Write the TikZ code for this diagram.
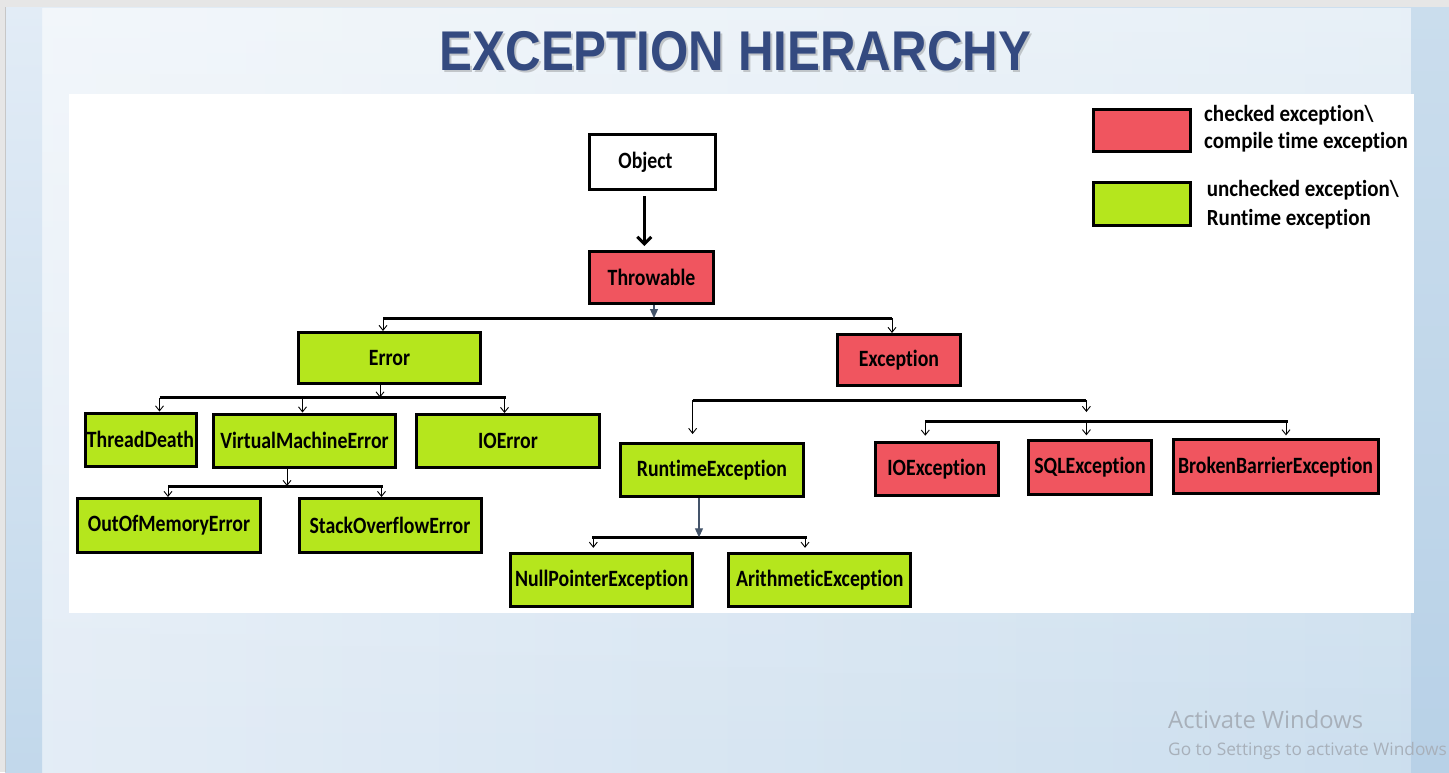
\documentclass[tikz,border=0pt]{standalone}
\usepackage{fontspec}
\setmainfont{Carlito}[Ligatures={NoCommon}]
\newfontfamily\titlefont{Liberation Sans}
\newfontfamily\winfont{Open Sans}
\usetikzlibrary{arrows.meta,fadings,calc}

\definecolor{chk}{RGB}{240,85,95}
\definecolor{unchk}{RGB}{181,230,29}
\definecolor{ttl}{RGB}{52,74,128}
\definecolor{linkblue}{RGB}{68,84,106}
\definecolor{frame}{RGB}{230,230,230}
\definecolor{bgleft}{RGB}{228,237,246}
\definecolor{bgmid}{RGB}{222,233,243}
\definecolor{bgright}{RGB}{203,222,238}
\definecolor{stripTop}{RGB}{226,236,246}
\definecolor{stripBot}{RGB}{194,216,235}
\definecolor{rstripTop}{RGB}{202,221,237}
\definecolor{rstripBot}{RGB}{184,209,231}
\definecolor{wingray}{RGB}{168,176,186}

% labels are set slightly taller than the font's natural shape
\newcommand\lbl[1]{\scalebox{1}[1.18]{#1}}
\newcommand\titletext{\scalebox{0.88}[1]{\titlefont\fontsize{56}{56}\selectfont\bfseries EXCEPTION HIERARCHY}}

\tikzset{
  box/.style={draw=black, line width=3pt, inner sep=0pt, text=black,
    font=\fontsize{19.8}{24}\selectfont\bfseries},
  legtext/.style={anchor=base west, inner sep=0pt, text=black,
    font=\fontsize{21}{21}\selectfont\bfseries},
  bar/.style={line width=3pt},
  drop/.style={line width=0.9pt, -{Straight Barb[length=5pt,width=8pt,line width=0.9pt]}},
  feed/.style={draw=linkblue, line width=1.1pt, -{Triangle[length=9pt,width=8pt]}},
  objarrow/.style={line width=3pt, -{Straight Barb[length=7pt,width=14pt,line width=3pt]}},
  wintext/.style={anchor=base west, inner sep=0pt, text=wingray},
}

\begin{document}
\begin{tikzpicture}[x=1pt,y=-1pt]
\useasboundingbox (0,0) rectangle (1449,772);

% slide background
\fill[frame] (0,0) rectangle (1449,772);
\shade[left color=bgleft, middle color=bgmid, right color=bgright] (5,7) rectangle (1449,772);
\fill[white, path fading=south, fill opacity=0.55] (5,7) rectangle (1449,772);
\shade[top color=stripTop, bottom color=stripBot] (5,7) rectangle (42,772);
\shade[top color=rstripTop, bottom color=rstripBot] (1411,7) rectangle (1449,772);
\draw[black!22, line width=0.8pt] (5,7) -- (5,772);

% title with soft shadow
\node[text=black!55, opacity=0.35, inner sep=0pt] (titleshadow) at (737.5,53.5) {\titletext};
\node[text=ttl, inner sep=0pt] (title) at (735.5,51) {\titletext};

% white diagram panel
\fill[white] (69,94) rectangle (1414,613.3);

% legend
\node[box, fill=chk, minimum width=97pt, minimum height=42.6pt] (legchk) at (1141.7,130.5) {};
\node[legtext] (legchk1) at (1204,121.7) {\scalebox{1}[1.1]{checked exception\textbackslash}};
\node[legtext] (legchk2) at (1204,148.3) {\scalebox{1}[1.1]{compile time exception}};
\node[box, fill=unchk, minimum width=97pt, minimum height=42.7pt] (legunchk) at (1141.7,203.8) {};
\node[legtext] (legunchk1) at (1206.7,196.7) {\scalebox{1}[1.1]{unchecked exception\textbackslash}};
\node[legtext] (legunchk2) at (1206.7,225) {\scalebox{1}[1.1]{Runtime exception}};

% class boxes
\node[box, fill=white, minimum width=126pt, minimum height=55pt] (obj) at (652.5,162) {\lbl{Object}\hspace*{14pt}};
\node[box, fill=chk, minimum width=124pt, minimum height=52pt] (thr) at (651.5,277.5) {\lbl{Throwable}};
\node[box, fill=unchk, minimum width=182pt, minimum height=51pt] (err) at (389.5,358) {\lbl{Error}};
\node[box, fill=chk, minimum width=123pt, minimum height=51pt] (exc) at (899,360) {\lbl{Exception}};

\node[box, fill=unchk, minimum width=111pt, minimum height=53pt] (td) at (140.5,439.5) {\lbl{ThreadDeath}};
\node[box, fill=unchk, minimum width=182pt, minimum height=53pt] (vme) at (304.5,440.5) {\lbl{VirtualMachineError}};
\node[box, fill=unchk, minimum width=183pt, minimum height=53pt] (ioe) at (508,441) {\lbl{IOError}};
\node[box, fill=unchk, minimum width=183pt, minimum height=54pt] (oom) at (169,525.5) {\lbl{OutOfMemoryError}};
\node[box, fill=unchk, minimum width=182pt, minimum height=54pt] (soe) at (390,525.5) {\lbl{StackOverflowError}};

\node[box, fill=unchk, minimum width=183pt, minimum height=53pt] (rte) at (712,470) {\lbl{RuntimeException}};
\node[box, fill=chk, minimum width=123.5pt, minimum height=53.6pt] (ioex) at (936.8,469) {\lbl{IOException}};
\node[box, fill=chk, minimum width=122.5pt, minimum height=53.4pt] (sqlx) at (1090,467.5) {\lbl{SQLException}};
\node[box, fill=chk, minimum width=205pt, minimum height=53.7pt] (bbx) at (1275.5,466.7) {\lbl{BrokenBarrierException}};
\node[box, fill=unchk, minimum width=182pt, minimum height=53pt] (npe) at (601.7,580.3) {\lbl{NullPointerException}};
\node[box, fill=unchk, minimum width=182pt, minimum height=53pt] (ari) at (819.8,580.3) {\lbl{ArithmeticException}};

% Object -> Throwable
\coordinate (oa) at (644.3,196);
\draw[objarrow, shorten <=5pt, shorten >=4pt] (obj.south -| oa) -- (thr.north -| oa);

% Throwable -> Error / Exception
\coordinate (b1L) at (383,318);
\coordinate (b1R) at (892,318);
\coordinate (t1) at (654,318);
\draw[bar] (b1L) -- (b1R);
\draw[feed] (thr.south -| t1) -- (t1);
\draw[drop] (b1L) -- (b1L |- err.north);
\draw[drop] (b1R) -- (b1R |- exc.north);

% Error -> ThreadDeath / VirtualMachineError / IOError
\coordinate (b2L) at (159.5,397.5);
\coordinate (b2M) at (302.5,397.5);
\coordinate (b2R) at (504.5,397.5);
\coordinate (e2) at (380,397.5);
\draw[bar] (b2L) -- (505.5,397.5);
\draw[drop] (err.south -| e2) -- (e2);
\draw[drop] (b2L) -- (b2L |- td.north);
\draw[drop] (b2M) -- (b2M |- vme.north);
\draw[drop] (b2R) -- (b2R |- ioe.north);

% VirtualMachineError -> OutOfMemoryError / StackOverflowError
\coordinate (b3L) at (168,486);
\coordinate (b3R) at (381.5,486);
\coordinate (v3) at (287,486);
\draw[bar] (b3L) -- (382.5,486);
\draw[drop] (vme.south -| v3) -- (v3);
\draw[drop] (b3L) -- (b3L |- oom.north);
\draw[drop] (b3R) -- (b3R |- soe.north);

% Exception -> RuntimeException / checked group
\coordinate (b4L) at (692.6,400);
\coordinate (b4R) at (1086.4,400);
\coordinate (b4T) at (1086.4,412);
\draw[bar] (b4L) -- (b4R);
\draw[drop, shorten >=8pt] (b4L) -- (b4L |- rte.north);
\draw[drop] (b4R) -- (b4T);

\coordinate (b5L) at (925.3,421);
\coordinate (b5M) at (1086.4,421);
\coordinate (b5R) at (1286,421);
\draw[bar] (b5L) -- (1287.7,421);
\draw[drop, shorten >=5pt] (b5L) -- (b5L |- ioex.north);
\draw[drop, shorten >=4pt] (b5M) -- (b5M |- sqlx.north);
\draw[drop, shorten >=3pt] (b5R) -- (b5R |- bbx.north);

% RuntimeException -> NullPointerException / ArithmeticException
\coordinate (b6L) at (593.3,537.3);
\coordinate (b6R) at (805,537.3);
\coordinate (r6) at (699,537.3);
\draw[bar] (592.3,537.3) -- (806.7,537.3);
\draw[feed] (rte.south -| r6) -- (r6);
\draw[drop, shorten >=4.5pt] (b6L) -- (b6L |- npe.north);
\draw[drop, shorten >=4.5pt] (b6R) -- (b6R |- ari.north);

% system watermark text
\node[wintext, font=\winfont\fontsize{23.8}{23.8}\selectfont] (act1) at (1168,728.3) {Activate Windows};
\node[wintext, font=\winfont\fontsize{17.3}{17.3}\selectfont] (act2) at (1168,755) {Go to Settings to activate Windows};
\end{tikzpicture}
\end{document}
